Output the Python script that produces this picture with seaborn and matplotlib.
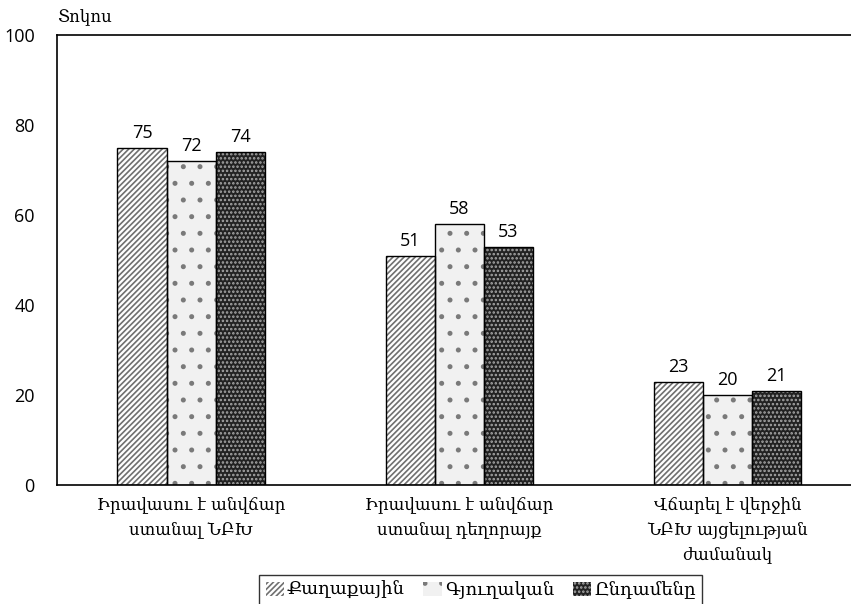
import matplotlib
matplotlib.use("Agg")
import matplotlib.pyplot as plt
import seaborn as sns
import pandas as pd
from matplotlib.patches import Patch

categories = [
    "Իրավասու է անվճար\nստանալ ՆԲԽ",
    "Իրավասու է անվճար\nստանալ դեղորայք",
    "Վճարել է վերջին\nՆԲԽ այցելության\nժամանակ",
]
series = ["Քաղաքային", "Գյուղական", "Ընդամենը"]
urban = [75, 51, 23]
rural = [72, 58, 20]
total = [74, 53, 21]
y_ticks = [0, 20, 40, 60, 80, 100]
y_title = "Տոկոս"

df = pd.DataFrame({
    "category": categories * 3,
    "series": [series[0]] * 3 + [series[1]] * 3 + [series[2]] * 3,
    "value": urban + rural + total,
})

sns.set_theme(style="white")
plt.rcParams["font.family"] = ["DejaVu Serif"]
plt.rcParams["text.color"] = "#000000"
plt.rcParams["xtick.color"] = "#000000"
plt.rcParams["ytick.color"] = "#000000"
plt.rcParams["hatch.linewidth"] = 1.2
num_font = ["Open Sans", "DejaVu Sans"]

# face colour, hatch pattern, hatch colour per series
styles = {
    series[0]: ("#ffffff", "//////", "#707070"),
    series[1]: ("#f1f1f1", ".", "#7a7a7a"),
    series[2]: ("#222222", "....", "#a8a8a8"),
}

fig, ax = plt.subplots(figsize=(8.51, 6.04), dpi=100)
fig.subplots_adjust(left=57 / 851, right=1.0, top=1 - 35 / 604, bottom=1 - 485 / 604)

sns.barplot(data=df, x="category", y="value", hue="series", hue_order=series,
            order=categories, width=0.55, gap=0, ax=ax, legend=False,
            errorbar=None, linewidth=0, saturation=1)

n = len(categories)
for i, patch in enumerate(ax.patches):
    face, hatch, hcol = styles[series[i // n]]
    patch.set_facecolor(face)
    patch.set_hatch(hatch)
    patch.set_edgecolor(hcol)
    patch.set_linewidth(0)

# black outlines on top of the patterned fills
sns.barplot(data=df, x="category", y="value", hue="series", hue_order=series,
            order=categories, width=0.55, gap=0, ax=ax, legend=False,
            errorbar=None, fill=False, linewidth=1.0,
            palette=["#000000"] * 3)

for patch in ax.patches[:3 * n]:
    val = patch.get_height()
    ax.annotate(f"{val:.0f}", (patch.get_x() + patch.get_width() / 2, val),
                xytext=(0, 4), textcoords="offset points", ha="center", va="bottom",
                fontsize=13, family=num_font, color="#000000")

ax.set_ylim(0, 100)
ax.set_yticks(y_ticks)
ax.set_yticklabels([str(t) for t in y_ticks], family=num_font, fontsize=13)
ax.set_xlim(-0.5, 2.46)
ax.set_xlabel("")
ax.set_ylabel("")
ax.tick_params(axis="x", labelsize=12, pad=8, length=0)
ax.tick_params(axis="y", pad=16, length=0)
for lab in ax.get_xticklabels():
    lab.set_ha("center")
    lab.set_linespacing(1.6)

for side in ["left", "top", "bottom"]:
    ax.spines[side].set_color("#000000")
    ax.spines[side].set_linewidth(1.2)
ax.spines["right"].set_visible(False)

fig.text(57 / 851, 1 - 18 / 604, y_title, fontsize=12, ha="left", va="center")

handles = [Patch(facecolor=styles[s][0], hatch=styles[s][1], edgecolor=styles[s][2],
                 linewidth=0) for s in series]
leg = fig.legend(handles, series, loc="upper center", bbox_to_anchor=(0.565, 1 - 566 / 604),
                 ncol=3, frameon=True, fancybox=False, edgecolor="#000000", fontsize=13,
                 handlelength=1.0, handleheight=0.8, handletextpad=0.2, columnspacing=1.0,
                 borderpad=0.35)
leg.get_frame().set_linewidth(1.0)

fig.savefig("out.png", dpi=100)
